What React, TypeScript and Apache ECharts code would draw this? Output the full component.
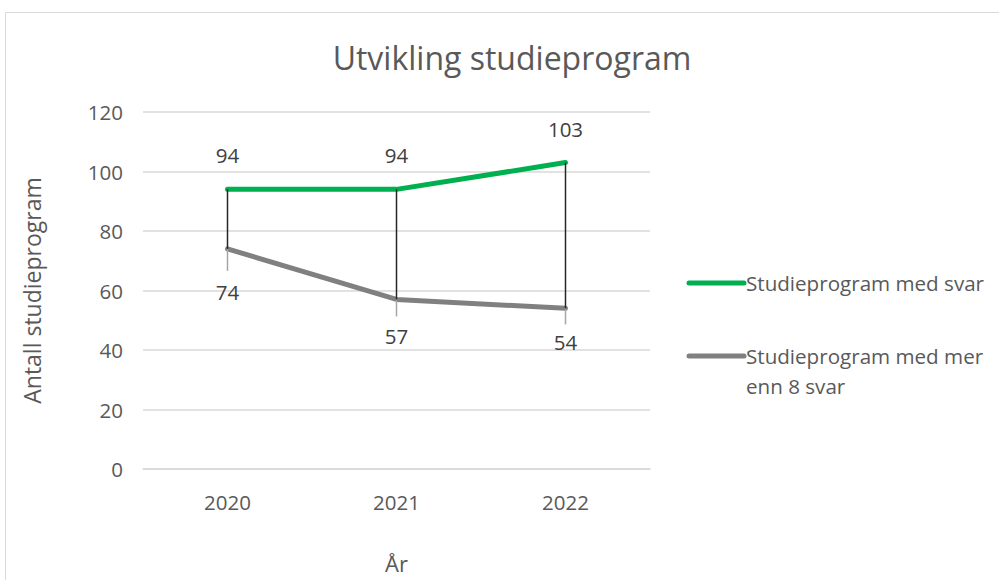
import React, { useEffect, useRef } from "react";
import * as echarts from "echarts";

const categories = ["2020", "2021", "2022"];
const seriesNames = ["Studieprogram med svar", "Studieprogram med mer enn 8 svar"];
const withAnswers = [94, 94, 103];
const moreThan8 = [74, 57, 54];
const errorPct = 0.1;
const yTicks = { min: 0, max: 120, interval: 20 };

// label placement (style, not data)
const lowerLabelDistance = [32, 26, 23];

const FONT = "'Open Sans', sans-serif";
const GREEN = "#00B050";
const GRAY = "#808080";

export default function App() {
  const ref = useRef<HTMLDivElement>(null);
  useEffect(() => {
    if (!ref.current) return;
    const chart = echarts.init(ref.current, null, { renderer: "svg" });
    const option: any = {
      animation: false,
      backgroundColor: "#ffffff",
      textStyle: { fontFamily: FONT },
      grid: {
        left: 143,
        right: 349,
        top: 112,
        bottom: 111,
        containLabel: false,
        outerBoundsMode: "none",
      },
      xAxis: {
        type: "category",
        data: categories,
        boundaryGap: true,
        axisTick: { show: false },
        axisLine: { lineStyle: { color: "#d9d9d9", width: 1.5 } },
        axisLabel: { color: "#595959", fontSize: 20.5, margin: 22, fontFamily: FONT },
        name: "År",
        nameLocation: "middle",
        nameGap: 82,
        nameTextStyle: { color: "#595959", fontSize: 22, fontFamily: FONT, lineHeight: 24 },
      },
      yAxis: {
        type: "value",
        min: yTicks.min,
        max: yTicks.max,
        interval: yTicks.interval,
        axisLine: { show: false },
        axisTick: { show: false },
        splitLine: { lineStyle: { color: "#d9d9d9", width: 1.5 } },
        axisLabel: { color: "#595959", fontSize: 20.5, margin: 20, fontFamily: FONT },
        name: "Antall studieprogram",
        nameLocation: "middle",
        nameGap: 100,
        nameTextStyle: { color: "#595959", fontSize: 23, fontFamily: FONT },
      },
      series: [
        {
          name: seriesNames[0],
          type: "line",
          data: withAnswers,
          symbol: "circle",
          symbolSize: 1,
          showSymbol: true,
          lineStyle: { color: GREEN, width: 5, cap: "round", join: "round" },
          itemStyle: { color: GREEN },
          label: {
            show: true,
            position: "top",
            distance: 23,
            color: "#404040",
            fontSize: 20.5,
            fontFamily: FONT,
          },
          z: 2,
        },
        {
          name: seriesNames[1],
          type: "line",
          data: moreThan8.map((v, i) => ({
            value: v,
            label: { distance: lowerLabelDistance[i] },
          })),
          symbol: "circle",
          symbolSize: 1,
          showSymbol: true,
          lineStyle: { color: GRAY, width: 5, cap: "round", join: "round" },
          itemStyle: { color: GRAY },
          label: {
            show: true,
            position: "bottom",
            distance: 28,
            color: "#404040",
            fontSize: 20.5,
            fontFamily: FONT,
          },
          z: 2,
        },
        {
          type: "custom",
          data: categories.map((c, i) => [i, withAnswers[i], moreThan8[i]]),
          encode: { x: 0, y: [1, 2] },
          z: 3,
          silent: true,
          renderItem: (params: any, api: any) => {
            const i = api.value(0);
            const top = api.coord([i, api.value(1)]);
            const bot = api.coord([i, api.value(2)]);
            const err = api.coord([i, api.value(2) * (1 - errorPct)]);
            return {
              type: "group",
              children: [
                {
                  type: "line",
                  shape: { x1: bot[0], y1: bot[1], x2: err[0], y2: err[1] },
                  style: { stroke: "#a6a6a6", lineWidth: 1.5 },
                },
                {
                  type: "line",
                  shape: { x1: top[0], y1: top[1], x2: bot[0], y2: bot[1] },
                  style: { stroke: "#262626", lineWidth: 1.5 },
                },
              ],
            };
          },
        },
      ],
      graphic: [
        {
          type: "rect",
          shape: { x: 5.5, y: 12.5, width: 1100, height: 700 },
          style: { fill: "none", stroke: "#d9d9d9", lineWidth: 1 },
          silent: true,
          z: -10,
        },
        {
          type: "text",
          x: 512,
          y: 57,
          style: {
            text: "Utvikling studieprogram",
            align: "center",
            verticalAlign: "middle",
            fill: "#595959",
            fontSize: 32,
            fontFamily: FONT,
          },
        },
        {
          type: "line",
          shape: { x1: 689, y1: 283, x2: 744, y2: 283 },
          style: { stroke: GREEN, lineWidth: 5, lineCap: "round" },
        },
        {
          type: "text",
          x: 746,
          y: 283,
          style: {
            text: seriesNames[0],
            verticalAlign: "middle",
            fill: "#595959",
            fontSize: 20.6,
            fontFamily: FONT,
          },
        },
        {
          type: "line",
          shape: { x1: 689, y1: 356, x2: 744, y2: 356 },
          style: { stroke: GRAY, lineWidth: 5, lineCap: "round" },
        },
        {
          type: "text",
          x: 746,
          y: 341,
          style: {
            text: "Studieprogram med mer\nenn 8 svar",
            verticalAlign: "top",
            lineHeight: 30,
            fill: "#595959",
            fontSize: 20.6,
            fontFamily: FONT,
          },
        },
      ],
    };
    chart.setOption(option);
    return () => chart.dispose();
  }, []);
  return (
    <div
      ref={ref}
      style={{ position: "fixed", left: 0, top: 0, width: 999, height: 580 }}
    />
  );
}
